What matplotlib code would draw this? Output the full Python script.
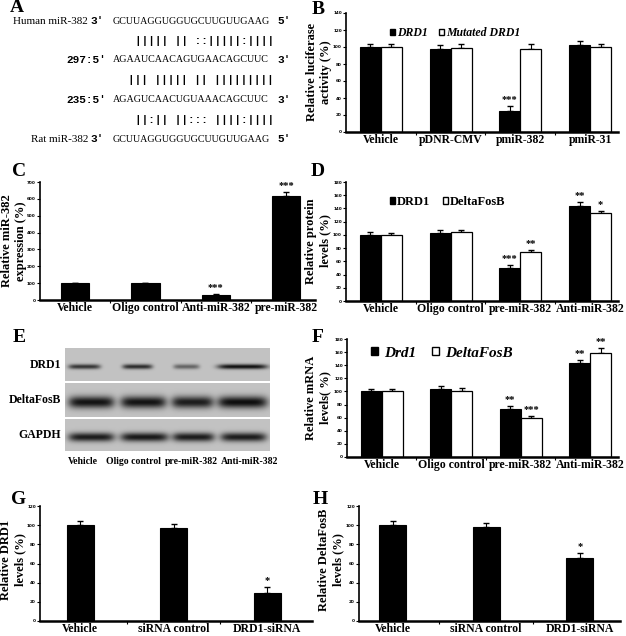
import matplotlib
matplotlib.use("Agg")
import matplotlib.pyplot as plt
import numpy as np
from matplotlib.patches import Patch

W, H = 626, 636
SERIF = "Liberation Serif"
MONO = "Liberation Mono"

# ---- data ----
human_seq = "GCUUAGGUGGUGCUUGUUGAAG"
site297 = "AGAAUCAACAGUGAACAGCUUC"
site235 = "AGAGUCAACUGUAAACAGCUUC"
rat_seq = "GCUUAGGUGGUGCUUGUUGAAG"
pair1 = "||||| || ::|||||:||||"
pair2 = "||| ||||| || |||||||||"
pair3 = "||:|| ||::: ||||:||||"

b_groups = ["Vehicle", "pDNR-CMV", "pmiR-382", "pmiR-31"]
b_drd1 = [100, 98, 25, 102]
b_drd1_err = [4, 4, 6, 5]
b_mut = [100, 99, 98, 100]
b_mut_err = [3, 5, 6, 3]
b_stars_a = ["", "", "***", ""]
b_stars_b = ["", "", "", ""]

c_groups = ["Vehicle", "Oligo control", "Anti-miR-382", "pre-miR-382"]
c_vals = [100, 100, 30, 617]
c_err = [3, 3, 6, 25]
c_stars = ["", "", "***", "***"]

d_groups = ["Vehicle", "Oligo control", "pre-miR-382", "Anti-miR-382"]
d_drd1 = [100, 103, 50, 144]
d_drd1_err = [4, 4, 5, 6]
d_fosb = [100, 104, 74, 133]
d_fosb_err = [3, 4, 3, 3]
d_stars_a = ["", "", "***", "**"]
d_stars_b = ["", "", "**", "*"]

f_groups = ["Vehicle", "Oligo control", "pre-miR-382", "Anti-miR-382"]
f_drd1 = [100, 104, 73, 144]
f_drd1_err = [3, 5, 5, 4]
f_fosb = [100, 101, 60, 158]
f_fosb_err = [4, 4, 3, 8]
f_stars_a = ["", "", "**", "**"]
f_stars_b = ["", "", "***", "**"]

g_groups = ["Vehicle", "siRNA control", "DRD1-siRNA"]
g_vals = [100, 97, 29]
g_err = [4, 4, 6]
g_stars = ["", "", "*"]

h_groups = ["Vehicle", "siRNA control", "DRD1-siRNA"]
h_vals = [100, 98, 66]
h_err = [4, 4, 5]
h_stars = ["", "", "*"]

# western blot (panel E)
blot_rows = ["DRD1", "DeltaFosB", "GAPDH"]
blot_lanes = ["Vehicle", "Oligo control", "pre-miR-382", "Anti-miR-382"]
band_center = [[19, 72, 121, 177], [26, 78, 127, 177], [26, 79, 128, 178]]
band_halfw = [[16, 15, 13, 25], [23, 23, 21, 25], [23, 24, 21, 23]]
band_level = [[0.75, 0.8, 0.5, 0.95], [0.95, 0.95, 0.9, 0.98], [0.9, 0.92, 0.9, 0.9]]
band_thick = [2.5, 6.0, 4.5]


fig = plt.figure(figsize=(W / 100, H / 100), dpi=100)


def px_axes(l, t, r, b):
    return fig.add_axes([l / W, 1 - b / H, (r - l) / W, (b - t) / H])


def ftext(x, y, s, **kw):
    fig.text(x / W, 1 - y / H, s, **kw)


def style(ax, ymax, step, xlim, labels):
    ax.set_ylim(0, ymax)
    ax.set_xlim(*xlim)
    for s in ["top", "right"]:
        ax.spines[s].set_visible(False)
    ax.spines["left"].set_linewidth(1.2)
    ax.spines["bottom"].set_linewidth(1.8)
    ax.set_yticks(np.arange(0, ymax + 1, step))
    ax.tick_params(axis="y", length=2, width=0.8, labelsize=3, pad=1)
    for t in ax.get_yticklabels():
        t.set_fontweight("bold")
    ax.set_xticks(np.arange(len(labels)))
    ax.set_xticklabels(labels, fontfamily=SERIF, fontweight="bold", fontsize=8.5)
    ax.tick_params(axis="x", length=0, pad=1.5)
    ax.set_xticks(np.arange(len(labels) - 1) + 0.5, minor=True)
    ax.tick_params(axis="x", which="minor", length=2.5, width=0.8)


def star(ax, x, y, s):
    if s:
        ax.annotate(s, (x, y), xytext=(0, 1.5), textcoords="offset points",
                    ha="center", va="bottom", fontsize=7.5, fontweight="bold",
                    fontfamily=SERIF)


def grouped(ax, labels, a, ea, b, eb, sa, sb):
    x = np.arange(len(labels))
    w = 0.3
    ax.bar(x - w / 2, a, w, color="black", edgecolor="black", lw=0.8, zorder=2)
    ax.bar(x + w / 2, b, w, color="white", edgecolor="black", lw=0.9, zorder=2)
    ax.errorbar(x - w / 2, a, yerr=[np.zeros(len(a)), ea], fmt="none",
                ecolor="black", capsize=2, elinewidth=0.8, zorder=1)
    ax.errorbar(x + w / 2, b, yerr=[np.zeros(len(b)), eb], fmt="none",
                ecolor="black", capsize=2, elinewidth=0.8, zorder=1)
    for i in range(len(labels)):
        star(ax, x[i] - w / 2, a[i] + ea[i], sa[i])
        star(ax, x[i] + w / 2, b[i] + eb[i], sb[i])


def single(ax, labels, v, e, s, w):
    x = np.arange(len(labels))
    ax.bar(x, v, w, color="black", edgecolor="black", lw=0.8, zorder=2)
    ax.errorbar(x, v, yerr=[np.zeros(len(v)), e], fmt="none",
                ecolor="black", capsize=2, elinewidth=0.8, zorder=1)
    for i in range(len(labels)):
        star(ax, x[i], v[i] + e[i], s[i])


def legend(ax, names, loc, size, style_, pad):
    h = [Patch(facecolor="black", edgecolor="black"),
         Patch(facecolor="white", edgecolor="black")]
    ax.legend(h, names, loc="center left", bbox_to_anchor=loc, frameon=False,
              ncol=2, handlelength=0.45, handleheight=0.45, handletextpad=pad,
              columnspacing=1.0, borderaxespad=0, borderpad=0,
              prop={"family": SERIF, "weight": "bold", "style": style_, "size": size})


def letter(x, y, s):
    ftext(x, y, s, fontfamily=SERIF, fontweight="bold", fontsize=14,
          ha="center", va="center")


def ylab(x, y, s):
    ftext(x, y, s, fontfamily=SERIF, fontweight="bold", fontsize=9,
          ha="center", va="center", rotation=90, linespacing=1.25)


# ---- panel A ----
letter(17, 8, "A")
seq_kw = dict(fontfamily=SERIF, fontsize=7.2, va="center", ha="left")
mono_kw = dict(fontfamily=MONO, fontweight="bold", fontsize=8, va="center")
rows_y = [21, 41, 60, 80, 100, 120, 139]
ftext(88, rows_y[0], "Human miR-382", fontfamily=SERIF, fontsize=8, ha="right", va="center")
ftext(90, rows_y[0], "3'", ha="left", **mono_kw)
ftext(113, rows_y[0], human_seq, **seq_kw)
ftext(277, rows_y[0], "5'", ha="left", **mono_kw)
ftext(274, rows_y[1], pair1, ha="right", **mono_kw)
ftext(106, rows_y[2], "297:5'", ha="right", **mono_kw)
ftext(113, rows_y[2], site297, **seq_kw)
ftext(277, rows_y[2], "3'", ha="left", **mono_kw)
ftext(274, rows_y[3], pair2, ha="right", **mono_kw)
ftext(106, rows_y[4], "235:5'", ha="right", **mono_kw)
ftext(113, rows_y[4], site235, **seq_kw)
ftext(277, rows_y[4], "3'", ha="left", **mono_kw)
ftext(274, rows_y[5], pair3, ha="right", **mono_kw)
ftext(88, rows_y[6], "Rat miR-382", fontfamily=SERIF, fontsize=8, ha="right", va="center")
ftext(90, rows_y[6], "3'", ha="left", **mono_kw)
ftext(113, rows_y[6], rat_seq, **seq_kw)
ftext(277, rows_y[6], "5'", ha="left", **mono_kw)

# ---- panel B ----
letter(318, 9, "B")
axb = px_axes(346, 13, 618, 132)
grouped(axb, b_groups, b_drd1, b_drd1_err, b_mut, b_mut_err, b_stars_a, b_stars_b)
style(axb, 140, 20, (-0.5, 3.4), b_groups)
legend(axb, ["DRD1", "Mutated DRD1"], (0.16, 0.83), 8.5, "italic", 0.15)
ylab(319, 72, "Relative luciferase\nactivity (%)")

# ---- panel C ----
letter(19, 172, "C")
axc = px_axes(40, 182, 315, 300)
single(axc, c_groups, c_vals, c_err, c_stars, 0.4)
style(axc, 700, 100, (-0.5, 3.41), c_groups)
ylab(14, 241, "Relative miR-382\nexpression (%)")

# ---- panel D ----
letter(318, 172, "D")
axd = px_axes(346, 182, 618, 301)
grouped(axd, d_groups, d_drd1, d_drd1_err, d_fosb, d_fosb_err, d_stars_a, d_stars_b)
style(axd, 180, 20, (-0.5, 3.4), d_groups)
legend(axd, ["DRD1", "DeltaFosB"], (0.16, 0.83), 9, "normal", 0.15)
ylab(318, 241, "Relative protein\nlevels (%)")

# ---- panel E (blot) ----
letter(19, 337, "E")
row_px = [(348, 381), (383, 417), (419, 451)]
for r, (t, b) in enumerate(row_px):
    ax = px_axes(65, t, 270, b)
    hgt = b - t
    yy, xx = np.mgrid[0:hgt, 0:205]
    img = np.full((hgt, 205), 0.76)
    yc = hgt * 0.55
    for c, hw, lv in zip(band_center[r], band_halfw[r], band_level[r]):
        img -= 0.72 * lv * np.exp(-((xx - c) / hw) ** 6) * np.exp(-((yy - yc) / band_thick[r]) ** 2)
    ax.imshow(img, cmap="gray", vmin=0, vmax=1, aspect="auto", interpolation="bilinear")
    ax.set_xticks([])
    ax.set_yticks([])
    for s in ax.spines.values():
        s.set_visible(False)
    ftext(61, (t + b) / 2, blot_rows[r], fontfamily=SERIF, fontweight="bold",
          fontsize=8.5, ha="right", va="center")
for xl, s in zip([68, 106, 165, 221], blot_lanes):
    ftext(xl, 461, s, fontfamily=SERIF, fontweight="bold", fontsize=7,
          ha="left", va="center")

# ---- panel F ----
letter(318, 337, "F")
axf = px_axes(347, 339, 618, 457)
grouped(axf, f_groups, f_drd1, f_drd1_err, f_fosb, f_fosb_err, f_stars_a, f_stars_b)
style(axf, 180, 20, (-0.5, 3.4), f_groups)
legend(axf, ["Drd1", "DeltaFosB"], (0.09, 0.88), 11, "italic", 0.4)
ylab(318, 398, "Relative mRNA\nlevels( %)")

# ---- panel G ----
letter(19, 500, "G")
axg = px_axes(40, 506, 312, 621)
single(axg, g_groups, g_vals, g_err, g_stars, 0.29)
style(axg, 120, 20, (-0.43, 2.48), g_groups)
ylab(13, 560, "Relative DRD1\nlevels (%)")

# ---- panel H ----
letter(320, 500, "H")
axh = px_axes(359, 506, 620, 621)
single(axh, h_groups, h_vals, h_err, h_stars, 0.29)
style(axh, 120, 20, (-0.36, 2.43), h_groups)
ylab(331, 560, "Relative DeltaFosB\nlevels (%)")

fig.savefig("out.png", dpi=100)
